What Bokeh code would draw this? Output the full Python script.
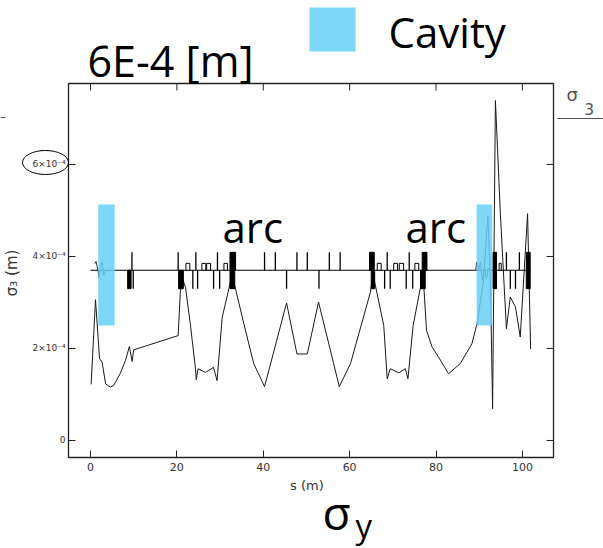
import numpy as np
from bokeh.plotting import figure
from bokeh.models import FixedTicker, Label, Range1d
from bokeh.core.properties import value
from bokeh.embed import file_html
from bokeh.resources import INLINE

# ---- data: sigma_3 along s (sigma in units of 1e-4 m) ----
s_pos = [0.15, 1.16, 2.1, 2.7, 3.5, 4.6, 5.4, 6.9, 8.1, 9.0, 9.65, 10.0, 20.3, 21.0,
         22.0, 23.1, 24.3, 24.5, 24.9, 26.6, 28.5, 29.3, 30.5, 32.8, 35.5, 37.8, 40.3,
         45.4, 47.8, 50.2, 52.8, 57.6, 60.2, 64.8, 65.4, 67.9, 68.7, 69.4, 71.4, 72.9,
         73.5, 74.7, 77.0, 77.8, 79.1, 81.0, 82.9, 85.6, 88.3, 89.5, 91.0, 92.0, 92.6,
         93.0, 93.1, 93.75, 94.9, 96.3, 97.2, 98.4, 99.5, 101.2, 101.9]
sigma3 = [1.22, 3.06, 1.78, 1.70, 1.23, 1.16, 1.20, 1.46, 1.74, 2.04, 1.72, 1.97, 2.28, 3.60,
          3.33, 2.54, 1.57, 1.32, 1.56, 1.48, 1.59, 1.30, 2.68, 3.60, 2.54, 1.67, 1.17,
          2.99, 1.88, 1.88, 3.01, 1.17, 1.67, 3.22, 3.62, 2.50, 1.34, 1.56, 1.47, 1.56,
          1.34, 2.50, 3.62, 2.39, 2.03, 1.75, 1.45, 1.67, 2.10, 2.54, 3.48, 4.89, 3.48,
          1.23, 0.69, 7.39, 4.93, 2.43, 3.12, 2.90, 2.25, 4.93, 1.99]

# cavity symbol traces on the lattice line
cav1_s = [1.0, 1.3, 1.7, 2.0, 2.3, 2.7, 3.1, 3.5, 3.8]
cav1_v = [3.84, 3.89, 3.71, 3.54, 3.77, 3.88, 3.59, 3.68, 3.70]
cav2_s = [89.2, 89.4, 89.9, 90.3, 90.7, 91.2, 91.7, 92.1, 92.5]
cav2_v = [3.70, 3.88, 3.70, 3.88, 3.48, 3.77, 3.51, 3.75, 3.70]

# lattice
lattice_level = 3.7
lattice_start, lattice_end = 0.0, 101.9
up_lines = [9.6, 20.3, 24.4, 29.4, 40.3, 42.8, 47.8, 50.2, 55.3, 57.8, 68.7, 73.8, 96.3, 99.3]
down_lines = [9.9, 23.7, 24.8, 28.5, 29.9, 45.4, 52.9, 68.1, 69.4, 73.1, 74.6, 97.2, 98.4]
open_left = [22.1, 25.8, 26.9, 30.9, 66.4, 70.2, 71.5, 75.1, 94.6]
open_right = [23.0, 26.7, 27.8, 31.7, 67.3, 71.1, 72.5, 76.0, 95.1]
up_blk_left = [32.3, 64.6, 76.8, 93.2, 100.9]
up_blk_right = [33.6, 65.7, 77.9, 94.0, 101.8]
dn_blk_left = [8.6, 20.4, 32.3, 65.0, 76.4, 93.2, 100.9]
dn_blk_right = [9.4, 21.5, 33.4, 65.8, 77.5, 94.0, 101.8]

# cavities
cav_start = [1.8, 89.4]
cav_end = [5.6, 93.0]
cav_low = [2.5, 2.5]
cav_high = [5.13, 5.13]

x_ticks = [0, 20, 40, 60, 80, 100]
y_ticks = [0, 2, 4, 6]
y_tick_labels = {0: "0", 2: "2×10⁻⁴", 4: "4×10⁻⁴", 6: "6×10⁻⁴"}

CAV_COLOR = "#68d0f6"
W, H = 603, 548
X0, X1, Y0, Y1 = -5.09, 107.2, -0.37, 7.76

# ---- main figure ----
p = figure(width=W, height=H, output_backend="svg", toolbar_location=None,
           x_range=Range1d(X0, X1), y_range=Range1d(Y0, Y1),
           min_border_left=68, min_border_right=50, min_border_top=83, min_border_bottom=91,
           x_axis_label="s   (m)", y_axis_label="σ₃  (m)")
p.grid.visible = False
p.outline_line_color = "#222222"
p.outline_line_width = 1.3
p.background_fill_color = "white"
p.border_fill_color = "white"

FONT = "DejaVu Sans"
for ax in p.xaxis + p.yaxis:
    ax.axis_line_color = None
    ax.major_tick_in = 7
    ax.major_tick_out = 0
    ax.minor_tick_line_color = None
    ax.major_tick_line_color = "#222222"
    ax.major_label_text_font = FONT
    ax.major_label_text_color = "#333333"
    ax.axis_label_text_font = FONT
    ax.axis_label_text_font_style = "normal"
    ax.axis_label_text_color = "#333333"

p.xaxis.ticker = FixedTicker(ticks=x_ticks)
p.xaxis.major_label_text_font_size = "11px"
p.xaxis.major_label_standoff = 5
p.xaxis.axis_label_text_font_size = "13px"
p.xaxis.axis_label_standoff = 4

p.yaxis.ticker = FixedTicker(ticks=y_ticks)
p.yaxis.major_label_overrides = y_tick_labels
p.yaxis.major_label_text_font_size = "9px"
p.yaxis.major_label_standoff = 3
p.yaxis.axis_label_text_font_size = "15px"
p.yaxis.axis_label_standoff = 8

# mirrored inward ticks on the top and right frame edges (same tick values)
tick_dy = 7 / 46.0
tick_dx = 7 / 4.32
p.segment(x0=x_ticks, y0=[Y1] * len(x_ticks), x1=x_ticks, y1=[Y1 - tick_dy] * len(x_ticks),
          line_color="#222222", line_width=1)
p.segment(x0=[X1] * len(y_ticks), y0=y_ticks, x1=[X1 - tick_dx] * len(y_ticks), y1=y_ticks,
          line_color="#222222", line_width=1)

# beam size curve
p.line(s_pos, sigma3, line_color="#1a1a1a", line_width=1.0)

# lattice
p.segment(x0=[lattice_start], y0=[lattice_level], x1=[lattice_end], y1=[lattice_level],
          line_color="black", line_width=1.2)
p.segment(x0=up_lines, y0=[lattice_level] * len(up_lines), x1=up_lines,
          y1=[4.09] * len(up_lines), line_color="black", line_width=1.3)
p.segment(x0=down_lines, y0=[lattice_level] * len(down_lines), x1=down_lines,
          y1=[3.30] * len(down_lines), line_color="black", line_width=1.3)
p.quad(left=open_left, right=open_right, bottom=[lattice_level] * len(open_left),
       top=[3.85] * len(open_left), fill_color="white", line_color="black", line_width=1)
p.quad(left=up_blk_left, right=up_blk_right, bottom=[lattice_level] * len(up_blk_left),
       top=[4.09] * len(up_blk_left), fill_color="black", line_color="black")
p.quad(left=dn_blk_left, right=dn_blk_right, bottom=[3.30] * len(dn_blk_left),
       top=[lattice_level] * len(dn_blk_left), fill_color="black", line_color="black")
p.line(cav1_s, cav1_v, line_color="#333333", line_width=1)
p.line(cav2_s, cav2_v, line_color="#333333", line_width=1)

# cavity boxes
p.quad(left=cav_start, right=cav_end, bottom=cav_low, top=cav_high,
       fill_color=CAV_COLOR, fill_alpha=0.85, line_color=None)

for ax_x in (222, 405):
    p.add_layout(Label(x=ax_x, y=254, x_units="canvas", y_units="canvas", text="arc",
                       text_font="Open Sans", text_font_size="42px", text_color="black",
                       text_baseline="bottom", text_align="left"))

# ---- transparent overlay in page pixels for the annotations around the plot ----
ov = figure(width=W, height=H, output_backend="svg", toolbar_location=None,
            x_range=Range1d(0, W), y_range=Range1d(H, 0), min_border=0,
            x_axis_type=None, y_axis_type=None)
ov.grid.visible = False
ov.outline_line_color = None
ov.background_fill_alpha = 0
ov.border_fill_alpha = 0
ov.styles = {"position": "absolute", "top": "0px", "left": "0px"}

def otext(x, y, txt, size, font="Open Sans", color="black"):
    ov.text(x=[x], y=[y], text=[txt], text_font=value(font), text_font_size=value(size),
            text_color=color, text_baseline="bottom", text_align="left")

ov.quad(left=[309], right=[355], top=[7], bottom=[51], fill_color=CAV_COLOR,
        fill_alpha=0.85, line_color=None)
otext(388, 59, "Cavity", "42px")
otext(87, 89, "6E-4 [m]", "43px")
otext(322, 542, "σ", "46px")
otext(355, 547, "y", "33px")
otext(566, 104, "σ", "18px", font="DejaVu Sans", color="#555555")
otext(584, 114, "3", "15px", font="DejaVu Sans", color="#555555")
ov.segment(x0=[557, 0], y0=[118, 117], x1=[603, 5], y1=[118, 117],
           line_color="#555555", line_width=1)
ov.ellipse(x=[45], y=[162], width=[46], height=[24], fill_alpha=0,
           line_color="black", line_width=1)

open("out.html", "w").write(file_html([p, ov], INLINE))
